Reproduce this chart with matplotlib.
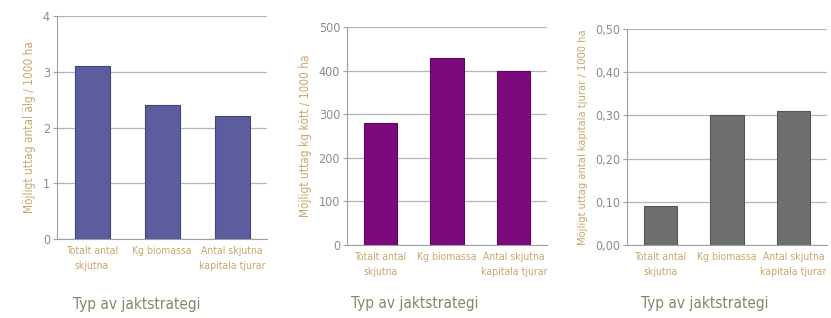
import matplotlib
matplotlib.use("Agg")
import matplotlib.pyplot as plt
from matplotlib.ticker import FuncFormatter

plt.rcParams['font.family'] = ['DejaVu Sans']
plt.rcParams['font.stretch'] = 'condensed'

categories = ["Totalt antal\nskjutna", "Kg biomassa", "Antal skjutna\nkapitala tjurar"]
moose_count = [3.1, 2.4, 2.2]
meat_kg = [280, 430, 400]
trophy_bulls = [0.09, 0.30, 0.31]

ylabels = ["Möjligt uttag antal älg / 1000 ha",
           "Möjligt uttag kg kött / 1000 ha",
           "Möjligt uttag antal kapitala tjurar / 1000 ha"]
xlabel = "Typ av jaktstrategi"

tan = "#c9a66b"
grey_txt = "#8c8c8c"

fig = plt.figure(figsize=(8.31, 3.18), dpi=100)
boxes = [[0.0686, 0.2484, 0.2527, 0.7013],
         [0.4176, 0.2296, 0.2407, 0.6855],
         [0.7545, 0.2296, 0.2407, 0.6792]]
series = [moose_count, meat_kg, trophy_bulls]
colors = ["#5c5c9e", "#7d0a7d", "#6f6f6f"]
edges = ["#45457a", "#5e065e", "#555555"]
ylims = [(0, 4), (0, 500), (0, 0.5)]
ysteps = [[0, 1, 2, 3, 4], [0, 100, 200, 300, 400, 500], [0, 0.1, 0.2, 0.3, 0.4, 0.5]]
fmts = [lambda v, p: f"{v:.0f}", lambda v, p: f"{v:.0f}",
        lambda v, p: f"{v:.2f}".replace(".", ",")]
ylabel_sizes = [8.5, 8.5, 8]
xlabel_pos = [(0.38, -0.26), (0.34, -0.235), (0.39, -0.235)]

for i in range(3):
    ax = fig.add_axes(boxes[i])
    ax.bar(range(3), series[i], width=0.5, color=colors[i], edgecolor=edges[i],
           linewidth=0.8, zorder=3)
    ax.set_xlim(-0.5, 2.5)
    ax.set_ylim(*ylims[i])
    ax.set_yticks(ysteps[i])
    ax.yaxis.set_major_formatter(FuncFormatter(fmts[i]))
    ax.grid(axis='y', color="#b5b5b5", linewidth=0.9, zorder=0)
    for s in ['top', 'right']:
        ax.spines[s].set_visible(False)
    for s in ['left', 'bottom']:
        ax.spines[s].set_color("#a0a0a0")
    ax.set_xticks(range(3))
    ax.set_xticklabels(categories, color=tan, fontsize=7.5, linespacing=1.6)
    ax.tick_params(axis='x', length=0, pad=5)
    ax.tick_params(axis='y', colors="#a0a0a0", labelcolor=grey_txt, labelsize=9,
                   length=3, pad=2)
    ax.set_ylabel(ylabels[i], color=tan, fontsize=ylabel_sizes[i], labelpad=5)
    ax.set_xlabel(xlabel, color="#8a8468", fontsize=11)
    ax.xaxis.set_label_coords(*xlabel_pos[i])

fig.savefig("out.png", dpi=100)
